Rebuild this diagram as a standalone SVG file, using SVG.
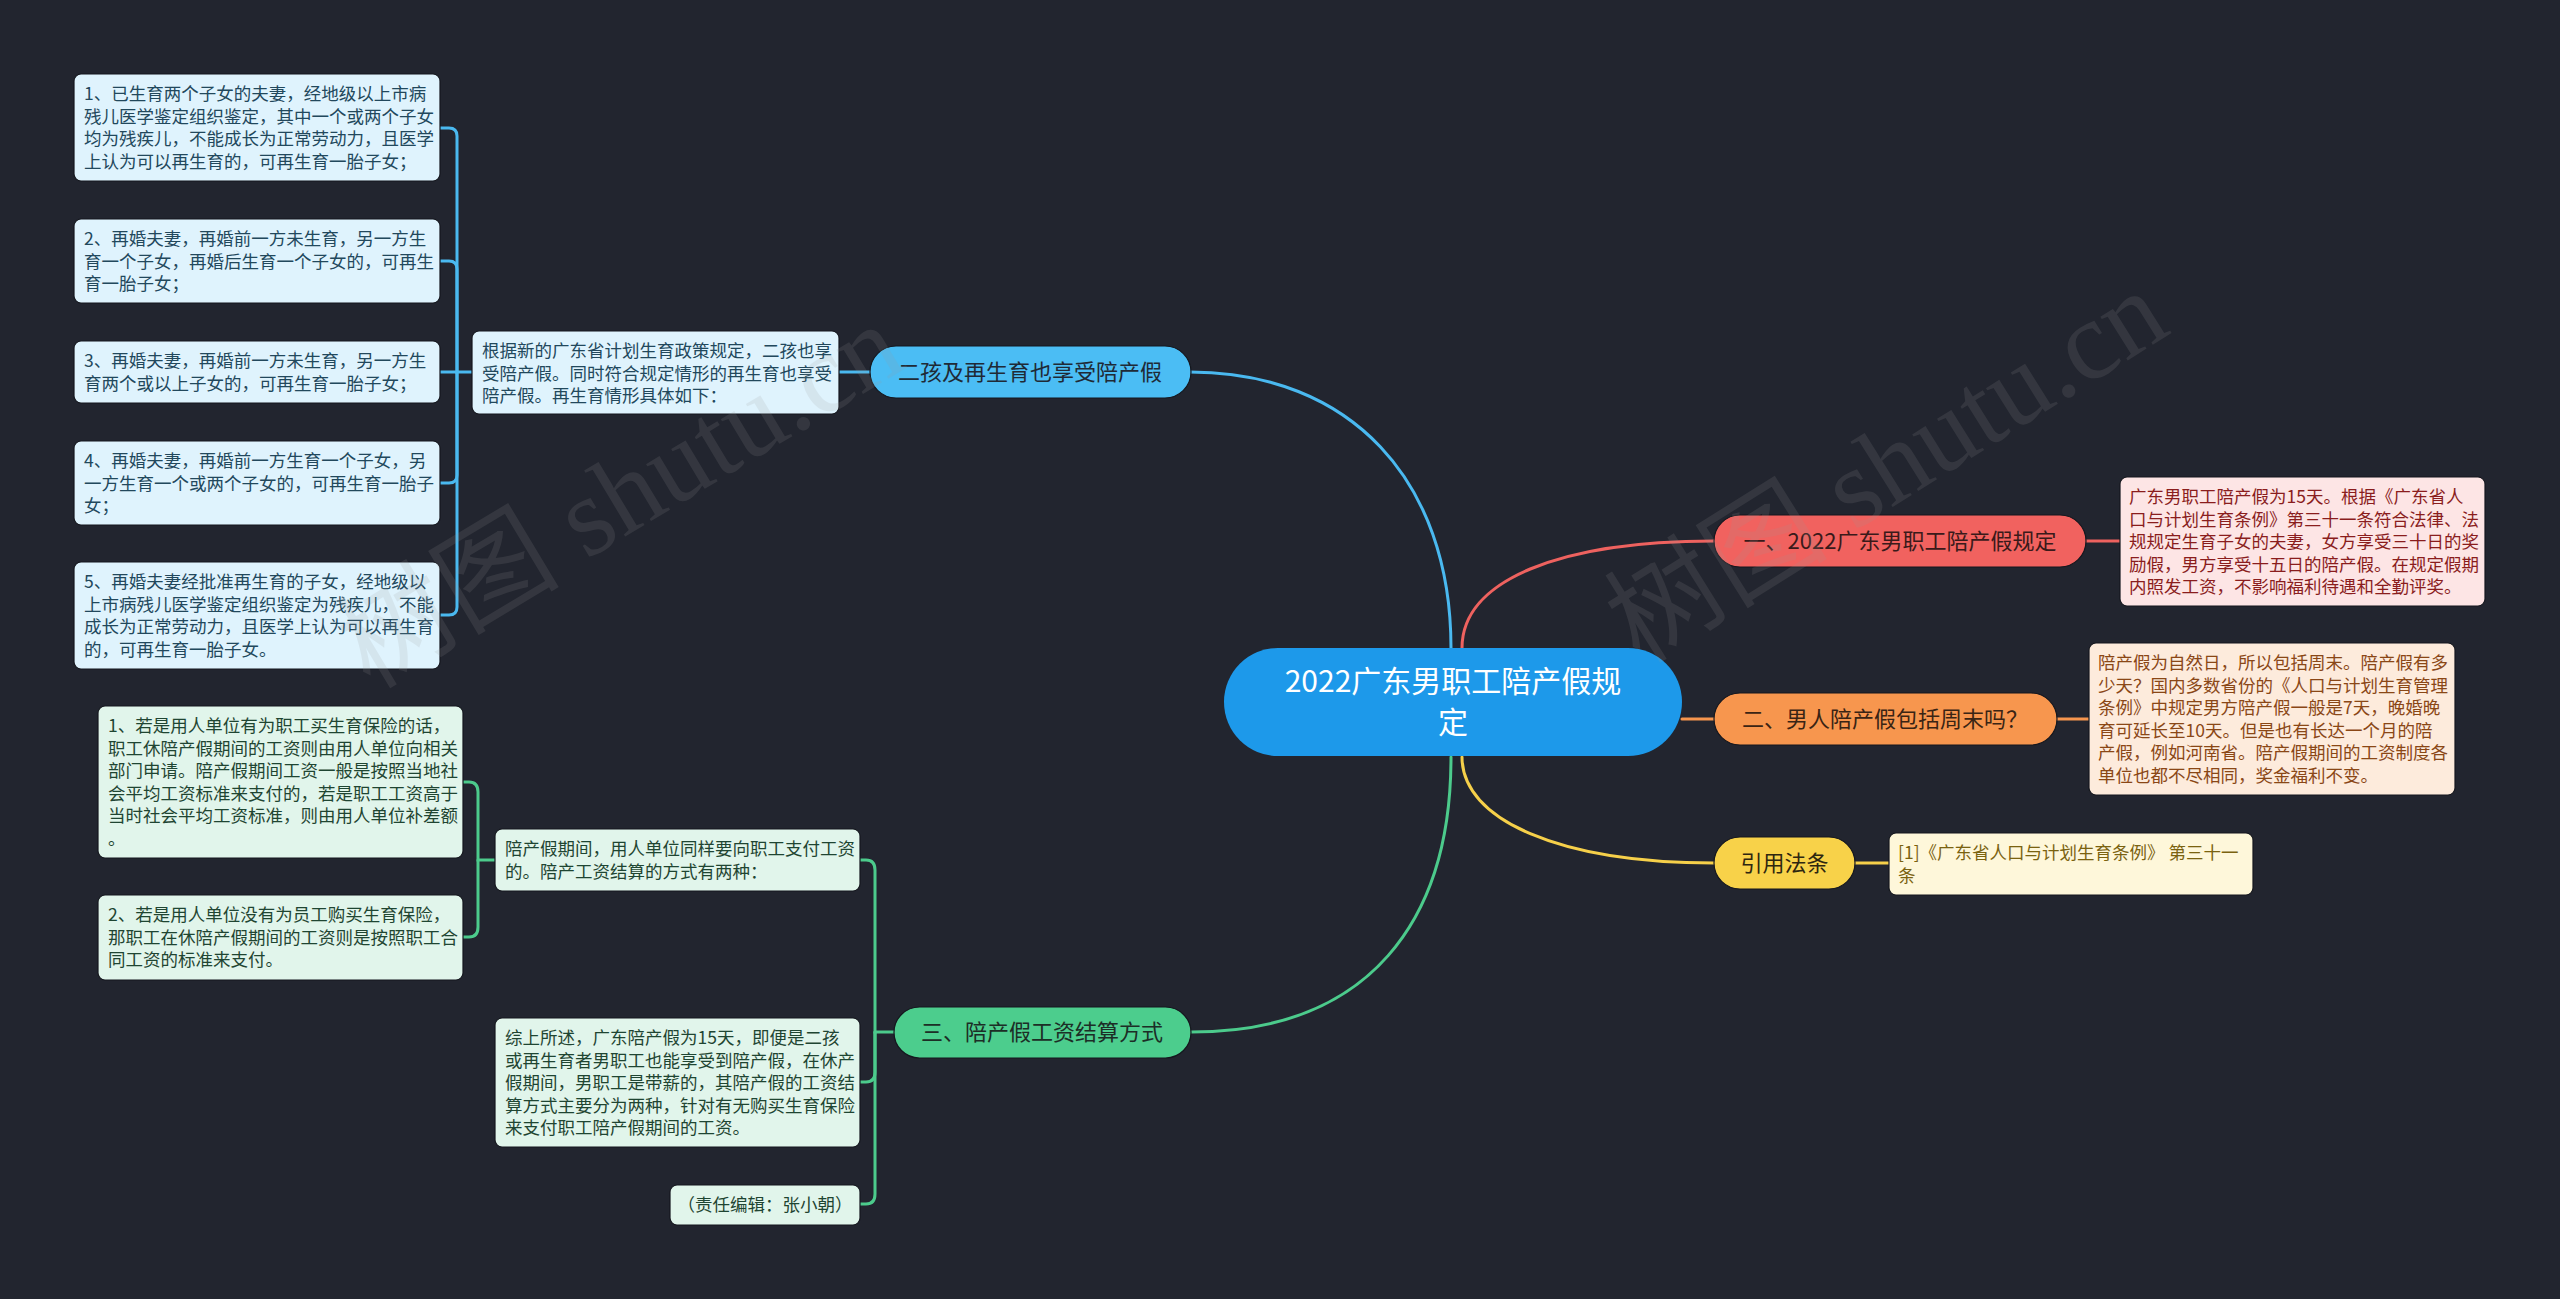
<svg xmlns="http://www.w3.org/2000/svg" width="2560" height="1299" viewBox="0 0 2560 1299">
<style>
text{font-family:"Noto Sans CJK SC","Noto Sans",sans-serif}
.bg{fill:#22252f}
.lt{font-size:17.5px}
.mt{font-size:22px;text-anchor:middle}
.ct{font-size:30px;text-anchor:middle;fill:#ffffff}
.box{stroke:#15171e;stroke-width:1.2}
.bB{fill:#dff3fd}.tB{fill:#22485c}
.bG{fill:#e1f5eb}.tG{fill:#1f4532}
.bR{fill:#fde5e5}.tR{fill:#8a1d1d}
.bO{fill:#fdebdc}.tO{fill:#8a4716}
.bY{fill:#fef7da}.tY{fill:#7a6210}
.con{fill:none;stroke-width:3;stroke-linecap:round}
.cB{stroke:#4ab9f0}.cG{stroke:#4ccb8c}.cR{stroke:#ee625f}.cO{stroke:#f6954e}.cY{stroke:#f6d04a}
.wm{font-family:"Liberation Serif","Noto Sans CJK SC",serif;font-size:112px;fill:#9a9a9a;opacity:0.15}
</style>
<rect class="bg" x="0" y="0" width="2560" height="1299"/>

<g id="connectors">
  <path class="con cB" d="M1190 372 C1350 372 1451 480 1451 648"/>
  <path class="con cR" d="M1462 648 C1462 580 1560 541 1714 541"/>
  <path class="con cO" d="M1682 719 H1714"/>
  <path class="con cY" d="M1462 757 C1462 820 1560 863 1714 863"/>
  <path class="con cG" d="M1451 757 C1451 920 1370 1032 1191 1032"/>
  <path class="con cB" d="M839 372 H870"/>
  <path class="con cB" d="M440 128 H449 Q457 128 457 136 V372 H472"/>
  <path class="con cB" d="M440 261 H449 Q457 261 457 269 V372"/>
  <path class="con cB" d="M440 372 H457"/>
  <path class="con cB" d="M440 483 H449 Q457 483 457 475 V372"/>
  <path class="con cB" d="M440 615 H449 Q457 615 457 607 V372"/>
  <path class="con cG" d="M860 860 H866 Q875 860 875 870 V1032 H894"/>
  <path class="con cG" d="M860 1082 H866 Q875 1082 875 1072 V1032"/>
  <path class="con cG" d="M860 1204 H866 Q875 1204 875 1194 V1032"/>
  <path class="con cG" d="M463 782 H469 Q478 782 478 792 V860 H495"/>
  <path class="con cG" d="M463 937 H469 Q478 937 478 927 V860"/>
  <path class="con cR" d="M2086 541 H2120"/>
  <path class="con cO" d="M2057 719 H2089"/>
  <path class="con cY" d="M1855 863 H1889"/>
</g>

<g id="central">
  <rect x="1224" y="648" width="458" height="108" rx="54" fill="#1d99ea"/>
  <text class="ct" x="1453" y="692">2022广东男职工陪产假规</text>
  <text class="ct" x="1453" y="733">定</text>
</g>

<g id="branch-erhai">
  <rect x="870" y="346" width="321" height="52" rx="26" fill="#4bbdf4" class="box"/>
  <text class="mt" x="1030" y="380" fill="#1f2a36">二孩及再生育也享受陪产假</text>
</g>
<g id="desc-erhai">
  <rect class="box bB" x="472" y="331" width="367" height="83" rx="7"/>
  <text class="lt tB" x="482" y="357">根据新的广东省计划生育政策规定，二孩也享</text>
  <text class="lt tB" x="482" y="379.5">受陪产假。同时符合规定情形的再生育也享受</text>
  <text class="lt tB" x="482" y="402">陪产假。再生育情形具体如下：</text>
</g>
<g id="leaf-b1">
  <rect class="box bB" x="74" y="74" width="366" height="107" rx="7"/>
  <text class="lt tB" x="84" y="100">1、已生育两个子女的夫妻，经地级以上市病</text>
  <text class="lt tB" x="84" y="122.5">残儿医学鉴定组织鉴定，其中一个或两个子女</text>
  <text class="lt tB" x="84" y="145">均为残疾儿，不能成长为正常劳动力，且医学</text>
  <text class="lt tB" x="84" y="167.5">上认为可以再生育的，可再生育一胎子女；</text>
</g>
<g id="leaf-b2">
  <rect class="box bB" x="74" y="219" width="366" height="84" rx="7"/>
  <text class="lt tB" x="84" y="245">2、再婚夫妻，再婚前一方未生育，另一方生</text>
  <text class="lt tB" x="84" y="267.5">育一个子女，再婚后生育一个子女的，可再生</text>
  <text class="lt tB" x="84" y="290">育一胎子女；</text>
</g>
<g id="leaf-b3">
  <rect class="box bB" x="74" y="341" width="366" height="62" rx="7"/>
  <text class="lt tB" x="84" y="367">3、再婚夫妻，再婚前一方未生育，另一方生</text>
  <text class="lt tB" x="84" y="389.5">育两个或以上子女的，可再生育一胎子女；</text>
</g>
<g id="leaf-b4">
  <rect class="box bB" x="74" y="441" width="366" height="84" rx="7"/>
  <text class="lt tB" x="84" y="467">4、再婚夫妻，再婚前一方生育一个子女，另</text>
  <text class="lt tB" x="84" y="489.5">一方生育一个或两个子女的，可再生育一胎子</text>
  <text class="lt tB" x="84" y="512">女；</text>
</g>
<g id="leaf-b5">
  <rect class="box bB" x="74" y="562" width="366" height="107" rx="7"/>
  <text class="lt tB" x="84" y="588">5、再婚夫妻经批准再生育的子女，经地级以</text>
  <text class="lt tB" x="84" y="610.5">上市病残儿医学鉴定组织鉴定为残疾儿，不能</text>
  <text class="lt tB" x="84" y="633">成长为正常劳动力，且医学上认为可以再生育</text>
  <text class="lt tB" x="84" y="655.5">的，可再生育一胎子女。</text>
</g>

<g id="branch-san">
  <rect x="894" y="1007" width="297" height="51" rx="25.5" fill="#4ccd8d" class="box"/>
  <text class="mt" x="1042" y="1040" fill="#1c2e26">三、陪产假工资结算方式</text>
</g>
<g id="desc-san-1">
  <rect class="box bG" x="495" y="829" width="365" height="62" rx="7"/>
  <text class="lt tG" x="505" y="855">陪产假期间，用人单位同样要向职工支付工资</text>
  <text class="lt tG" x="505" y="877.5">的。陪产工资结算的方式有两种：</text>
</g>
<g id="desc-san-2">
  <rect class="box bG" x="495" y="1018" width="365" height="129" rx="7"/>
  <text class="lt tG" x="505" y="1044">综上所述，广东陪产假为15天，即便是二孩</text>
  <text class="lt tG" x="505" y="1066.5">或再生育者男职工也能享受到陪产假，在休产</text>
  <text class="lt tG" x="505" y="1089">假期间，男职工是带薪的，其陪产假的工资结</text>
  <text class="lt tG" x="505" y="1111.5">算方式主要分为两种，针对有无购买生育保险</text>
  <text class="lt tG" x="505" y="1134">来支付职工陪产假期间的工资。</text>
</g>
<g id="desc-san-3">
  <rect class="box bG" x="670" y="1185" width="190" height="40" rx="7"/>
  <text class="lt tG" x="765" y="1211" text-anchor="middle">（责任编辑：张小朝）</text>
</g>
<g id="leaf-g1">
  <rect class="box bG" x="98" y="706" width="365" height="152" rx="7"/>
  <text class="lt tG" x="108" y="732">1、若是用人单位有为职工买生育保险的话，</text>
  <text class="lt tG" x="108" y="754.5">职工休陪产假期间的工资则由用人单位向相关</text>
  <text class="lt tG" x="108" y="777">部门申请。陪产假期间工资一般是按照当地社</text>
  <text class="lt tG" x="108" y="799.5">会平均工资标准来支付的，若是职工工资高于</text>
  <text class="lt tG" x="108" y="822">当时社会平均工资标准，则由用人单位补差额</text>
  <text class="lt tG" x="108" y="844.5">。</text>
</g>
<g id="leaf-g2">
  <rect class="box bG" x="98" y="895" width="365" height="85" rx="7"/>
  <text class="lt tG" x="108" y="921">2、若是用人单位没有为员工购买生育保险，</text>
  <text class="lt tG" x="108" y="943.5">那职工在休陪产假期间的工资则是按照职工合</text>
  <text class="lt tG" x="108" y="966">同工资的标准来支付。</text>
</g>

<g id="branch-yi">
  <rect x="1714" y="515" width="372" height="52" rx="26" fill="#f1625f" class="box"/>
  <text class="mt" x="1900" y="549" fill="#3a1a1a">一、2022广东男职工陪产假规定</text>
</g>
<g id="desc-yi">
  <rect class="box bR" x="2120" y="477" width="365" height="129" rx="7"/>
  <text class="lt tR" x="2129" y="503">广东男职工陪产假为15天。根据《广东省人</text>
  <text class="lt tR" x="2129" y="525.5">口与计划生育条例》第三十一条符合法律、法</text>
  <text class="lt tR" x="2129" y="548">规规定生育子女的夫妻，女方享受三十日的奖</text>
  <text class="lt tR" x="2129" y="570.5">励假，男方享受十五日的陪产假。在规定假期</text>
  <text class="lt tR" x="2129" y="593">内照发工资，不影响福利待遇和全勤评奖。</text>
</g>

<g id="branch-er">
  <rect x="1714" y="693" width="343" height="52" rx="26" fill="#f7964e" class="box"/>
  <text class="mt" x="1885" y="727" fill="#3a2414">二、男人陪产假包括周末吗？</text>
</g>
<g id="desc-er">
  <rect class="box bO" x="2089" y="643" width="366" height="152" rx="7"/>
  <text class="lt tO" x="2098" y="669">陪产假为自然日，所以包括周末。陪产假有多</text>
  <text class="lt tO" x="2098" y="691.5">少天？国内多数省份的《人口与计划生育管理</text>
  <text class="lt tO" x="2098" y="714">条例》中规定男方陪产假一般是7天，晚婚晚</text>
  <text class="lt tO" x="2098" y="736.5">育可延长至10天。但是也有长达一个月的陪</text>
  <text class="lt tO" x="2098" y="759">产假，例如河南省。陪产假期间的工资制度各</text>
  <text class="lt tO" x="2098" y="781.5">单位也都不尽相同，奖金福利不变。</text>
</g>

<g id="branch-yinyong">
  <rect x="1714" y="837" width="141" height="52" rx="26" fill="#f8d249" class="box"/>
  <text class="mt" x="1784.5" y="871" fill="#2e2610">引用法条</text>
</g>
<g id="desc-yinyong">
  <rect class="box bY" x="1889" y="833" width="364" height="62" rx="7"/>
  <text class="lt tY" x="1898" y="859">[1]《广东省人口与计划生育条例》 第三十一</text>
  <text class="lt tY" x="1898" y="881.5">条</text>
</g>

<g id="watermarks">
  <text class="wm" transform="translate(370,690) rotate(-31)">树图 shutu.cn</text>
  <text class="wm" transform="translate(1640,665) rotate(-32)">树图 shutu.cn</text>
</g>
</svg>
